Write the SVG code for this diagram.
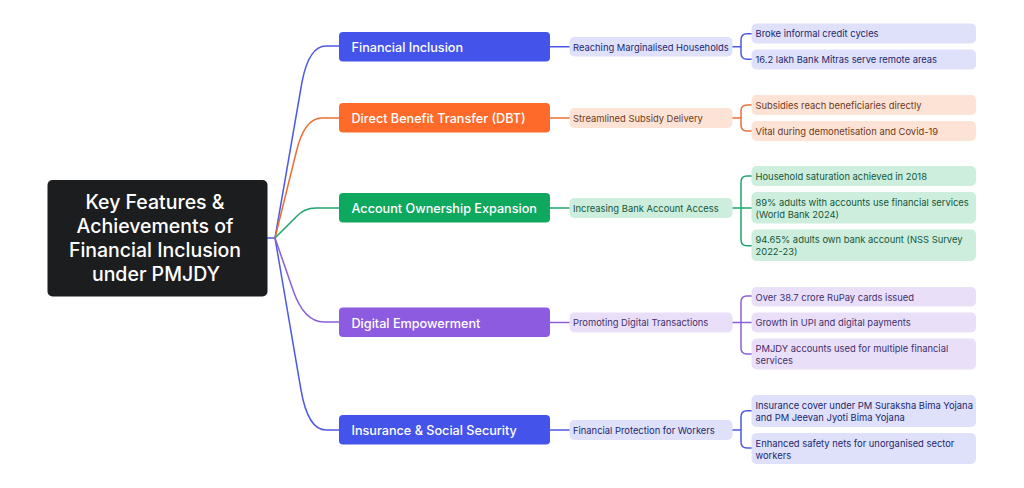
<svg xmlns="http://www.w3.org/2000/svg" width="1024" height="488" viewBox="0 0 1024 488">
<style>
text{font-family:"Inter","Noto Sans",sans-serif}
.root{font-size:19.5px;font-weight:500;fill:#fff;text-anchor:middle}
.main{font-size:12.65px;font-weight:500;fill:#fff}
.t{font-size:9.4px}
.b1{fill:#4453ea}.b2{fill:#fd6a2a}.b3{fill:#0fa85f}.b4{fill:#8c5be0}.b5{fill:#4453ea}
.l1{fill:#dfe1fb}.l2{fill:#fde3d5}.l3{fill:#cdeedd}.l4{fill:#e9dff9}
.t1{fill:#22286e}.t2{fill:#6e3a22}.t3{fill:#14573a}.t4{fill:#42306e}
</style>
<rect width="1024" height="488" fill="#fff"/>
<g id="connectors" fill="none" stroke-width="1.5">
<g stroke="#4f5ae4">
<path d="M267 238H275L302 82Q309 46 326 46H339"/>
<path d="M275 238L301 390Q308 430 326 430H339"/>
<path d="M550 46.700H570M732 46.700H741M741 40Q741 33.700 747 33.700H752M741 53Q741 59.300 747 59.300H752M741 40V53"/>
<path d="M550 430H570M732 430H741M741 417Q741 410.700 747 410.700H752M741 442Q741 448 747 448H752M741 417V442"/>
</g>
<g stroke="#ed6e33">
<path d="M275 238L296 153Q304 118 322 118H339"/>
<path d="M550 118H570M732 118H741M741 111Q741 105 747 105H752M741 125Q741 131 747 131H752M741 111V125"/>
</g>
<g stroke="#1fa56c">
<path d="M275 238L296 217Q304 208 316 208H339"/>
<path d="M550 208H570M732 208H752M741 182Q741 176 747 176H752M741 239.700Q741 245.700 747 245.700H752M741 182V239.700"/>
</g>
<g stroke="#8a60d8">
<path d="M275 238L293 290Q304 322 324 322H339"/>
<path d="M550 322.500H570M732 322.500H752M741 302Q741 296 747 296H752M741 348Q741 354 747 354H752M741 302V348"/>
</g>
</g>
<g id="root"><rect x="47.500" y="180" width="220" height="116.500" rx="5" fill="#1c1d1f"/>
<text class="root" x="155" y="209">Key Features &amp;</text>
<text class="root" x="155" y="233">Achievements of</text>
<text class="root" x="155" y="257">Financial Inclusion</text>
<text class="root" x="156" y="281">under PMJDY</text></g>
<g id="n1"><rect class="b1" x="339" y="32" width="211" height="29.500" rx="4"/><text class="main" x="351.500" y="51.500">Financial Inclusion</text></g>
<g id="n2"><rect class="b2" x="339" y="103" width="211" height="29.500" rx="4"/><text class="main" x="351.500" y="122.500">Direct Benefit Transfer (DBT)</text></g>
<g id="n3"><rect class="b3" x="339" y="193" width="211" height="29.500" rx="4"/><text class="main" x="351.500" y="213">Account Ownership Expansion</text></g>
<g id="n4"><rect class="b4" x="339" y="307.500" width="211" height="29.500" rx="4"/><text class="main" x="351.500" y="327.500">Digital Empowerment</text></g>
<g id="n5"><rect class="b5" x="339" y="415" width="211" height="29.500" rx="4"/><text class="main" x="351.500" y="435">Insurance &amp; Social Security</text></g>
<g id="s1"><rect class="l1" x="569.500" y="37" width="163" height="19.500" rx="5"/><text class="t t1" x="573" y="50.500">Reaching Marginalised Households</text></g>
<g id="s2"><rect class="l2" x="569.500" y="108" width="163" height="20" rx="5"/><text class="t t2" x="573" y="121.800">Streamlined Subsidy Delivery</text></g>
<g id="s3"><rect class="l3" x="569.500" y="198" width="163" height="20" rx="5"/><text class="t t3" x="573" y="211.800">Increasing Bank Account Access</text></g>
<g id="s4"><rect class="l4" x="569.500" y="312.500" width="163" height="20" rx="5"/><text class="t t4" x="573" y="326.300">Promoting Digital Transactions</text></g>
<g id="s5"><rect class="l1" x="569.500" y="420" width="163" height="20" rx="5"/><text class="t t1" x="573" y="433.800">Financial Protection for Workers</text></g>
<g id="a1"><rect class="l1" x="751.500" y="23.500" width="224.500" height="20" rx="5"/><text class="t t1" x="755.500" y="37.300">Broke informal credit cycles</text></g>
<g id="a2"><rect class="l1" x="751.500" y="49.500" width="224.500" height="20" rx="5"/><text class="t t1" x="755.500" y="63.300">16.2 lakh Bank Mitras serve remote areas</text></g>
<g id="b1"><rect class="l2" x="751.500" y="95" width="224.500" height="20" rx="5"/><text class="t t2" x="755.500" y="108.800">Subsidies reach beneficiaries directly</text></g>
<g id="b2"><rect class="l2" x="751.500" y="121" width="224.500" height="20" rx="5"/><text class="t t2" x="755.500" y="134.800">Vital during demonetisation and Covid-19</text></g>
<g id="c1"><rect class="l3" x="751.500" y="166" width="224.500" height="20" rx="5"/><text class="t t3" x="755.500" y="179.800">Household saturation achieved in 2018</text></g>
<g id="c2"><rect class="l3" x="751.500" y="192" width="224.500" height="31.500" rx="5"/><text class="t t3" x="755.500" y="205.800">89% adults with accounts use financial services</text><text class="t t3" x="755.500" y="217.500">(World Bank 2024)</text></g>
<g id="c3"><rect class="l3" x="751.500" y="229.500" width="224.500" height="31.500" rx="5"/><text class="t t3" x="755.500" y="243.300">94.65% adults own bank account (NSS Survey</text><text class="t t3" x="755.500" y="255">2022-23)</text></g>
<g id="d1"><rect class="l4" x="751.500" y="287" width="224.500" height="19.500" rx="5"/><text class="t t4" x="755.500" y="300.500">Over 38.7 crore RuPay cards issued</text></g>
<g id="d2"><rect class="l4" x="751.500" y="312.500" width="224.500" height="20" rx="5"/><text class="t t4" x="755.500" y="326.300">Growth in UPI and digital payments</text></g>
<g id="d3"><rect class="l4" x="751.500" y="338.500" width="224.500" height="31" rx="5"/><text class="t t4" x="755.500" y="352">PMJDY accounts used for multiple financial</text><text class="t t4" x="755.500" y="363.700">services</text></g>
<g id="e1"><rect class="l1" x="751.500" y="395" width="224.500" height="32" rx="5"/><text class="t t1" x="755.500" y="409">Insurance cover under PM Suraksha Bima Yojana</text><text class="t t1" x="755.500" y="420.700">and PM Jeevan Jyoti Bima Yojana</text></g>
<g id="e2"><rect class="l1" x="751.500" y="433" width="224.500" height="31" rx="5"/><text class="t t1" x="755.500" y="446.800">Enhanced safety nets for unorganised sector</text><text class="t t1" x="755.500" y="458.500">workers</text></g>
</svg>
